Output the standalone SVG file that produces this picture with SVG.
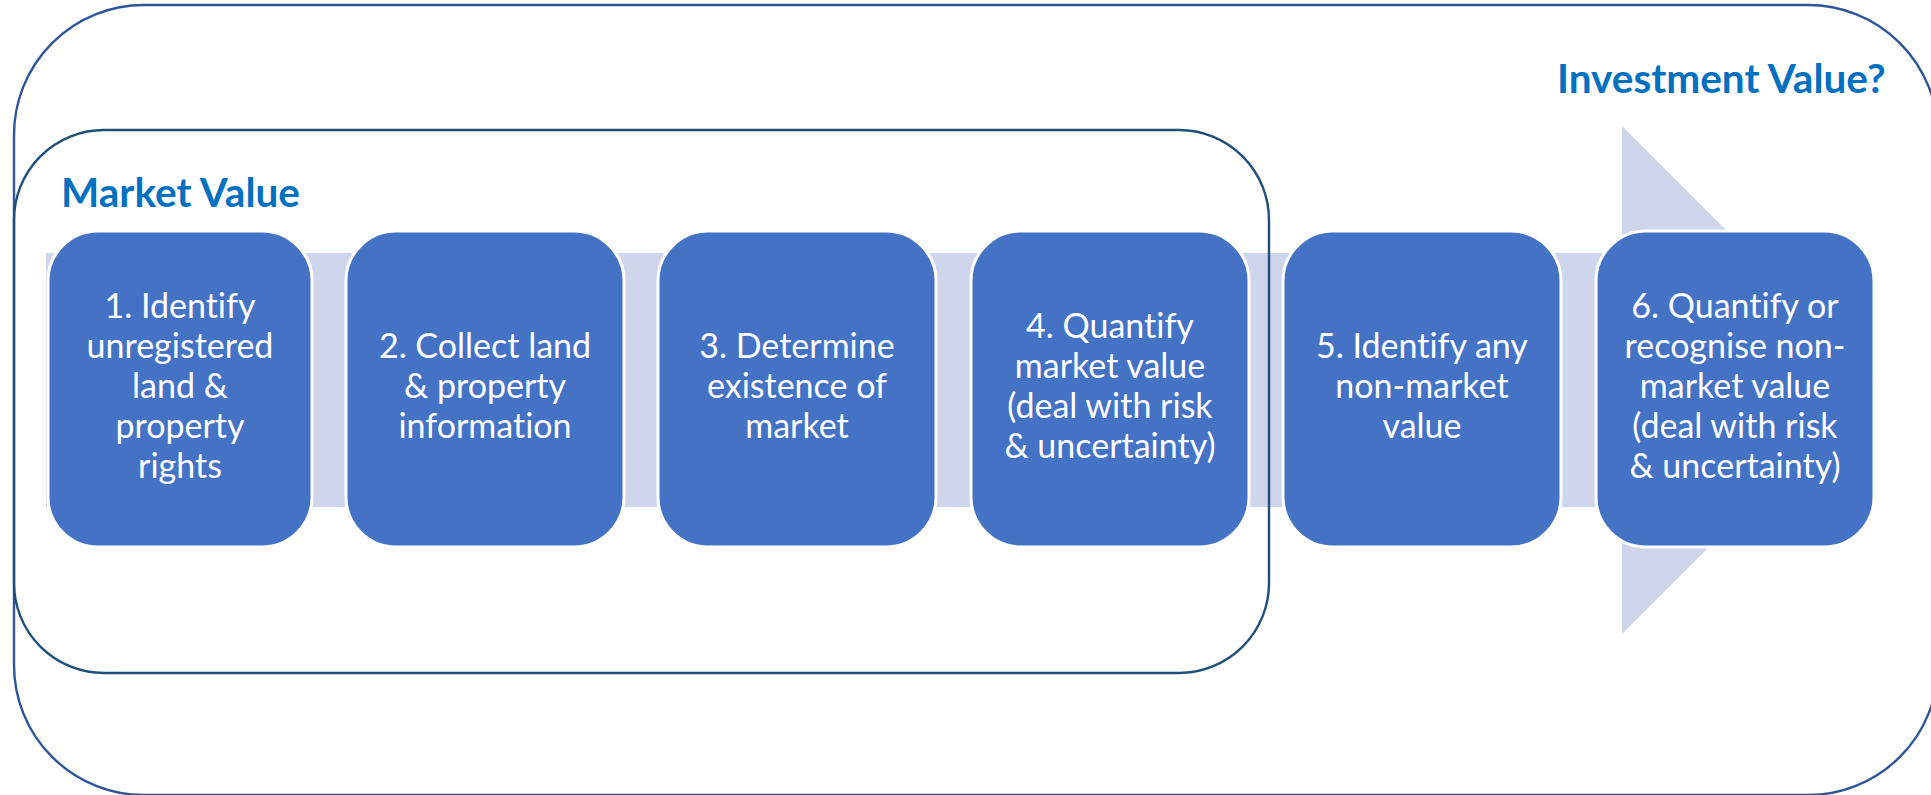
<svg xmlns="http://www.w3.org/2000/svg" width="1931" height="795" viewBox="0 0 1931 795">
<style>
.frame{fill:none;stroke-width:2.4}
.outer{stroke:#2F5597}
.inner{stroke:#1F4E79}
.band{fill:#CFD5EA}
.node rect{fill:#4472C4;stroke:#FFFFFF;stroke-width:3}
.node text{fill:#FFFFFF;font-family:"Lato","Liberation Sans",sans-serif;font-size:34px;text-anchor:middle;font-variant-ligatures:none}
.title{fill:#0070C0;font-family:"Lato","Liberation Sans",sans-serif;font-size:40.5px;font-weight:bold;font-variant-ligatures:none}
</style>
<rect width="1931" height="795" fill="#FFFFFF"/>
<g id="connectors">
<path class="band" d="M46,253 H1622 V126 L1876,380 L1622,634 V507 H46 Z"/>
</g>
<g id="investment-frame">
<rect class="frame outer" x="14" y="5" width="1924" height="790" rx="130" ry="130"/>
<text class="title" x="1557" y="93">Investment Value?</text>
</g>
<g id="market-frame">
<rect class="frame inner" x="14" y="130" width="1255" height="543" rx="90" ry="90"/>
<text class="title" x="61" y="207">Market Value</text>
</g>
<g id="node1" class="node">
<rect x="48" y="231" width="264" height="316" rx="50" ry="50"/>
<text x="180" y="318">1. Identify</text>
<text x="180" y="358">unregistered</text>
<text x="180" y="398">land &amp;</text>
<text x="180" y="438">property</text>
<text x="180" y="478">rights</text>
</g>
<g id="node2" class="node">
<rect x="346" y="231" width="278" height="316" rx="50" ry="50"/>
<text x="485" y="358">2. Collect land</text>
<text x="485" y="398">&amp; property</text>
<text x="485" y="438">information</text>
</g>
<g id="node3" class="node">
<rect x="658" y="231" width="278" height="316" rx="50" ry="50"/>
<text x="797" y="358">3. Determine</text>
<text x="797" y="398">existence of</text>
<text x="797" y="438">market</text>
</g>
<g id="node4" class="node">
<rect x="971" y="231" width="278" height="316" rx="50" ry="50"/>
<text x="1110" y="338">4. Quantify</text>
<text x="1110" y="378">market value</text>
<text x="1110" y="418">(deal with risk</text>
<text x="1110" y="458">&amp; uncertainty)</text>
</g>
<g id="node5" class="node">
<rect x="1283" y="231" width="278" height="316" rx="50" ry="50"/>
<text x="1422" y="358">5. Identify any</text>
<text x="1422" y="398">non-market</text>
<text x="1422" y="438">value</text>
</g>
<g id="node6" class="node">
<rect x="1596" y="231" width="278" height="316" rx="50" ry="50"/>
<text x="1735" y="318">6. Quantify or</text>
<text x="1735" y="358">recognise non-</text>
<text x="1735" y="398">market value</text>
<text x="1735" y="438">(deal with risk</text>
<text x="1735" y="478">&amp; uncertainty)</text>
</g>
</svg>
